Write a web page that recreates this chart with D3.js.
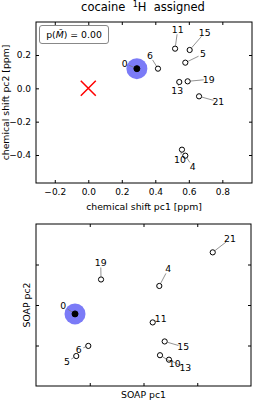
<!DOCTYPE html>
<html>
<head>
<meta charset="utf-8">
<script src="https://cdn.jsdelivr.net/npm/d3@7"></script>
<style>
  body { margin: 0; background: #fff; }
  svg { display: block; font-family: "DejaVu Sans", sans-serif; }
</style>
</head>
<body>
<svg id="chart" width="262" height="401"></svg>
<script>
// ---- data ----
const atoms = ["0", "6", "11", "15", "5", "19", "13", "21", "10", "4"];

// chemical shift PCA (ppm)
const csX = [0.29, 0.416, 0.518, 0.605, 0.579, 0.593, 0.543, 0.661, 0.559, 0.579];
const csY = [0.118, 0.118, 0.238, 0.23, 0.154, 0.042, 0.038, -0.048, -0.368, -0.404];
const csLabelX = [0.217, 0.368, 0.534, 0.695, 0.685, 0.719, 0.531, 0.776, 0.547, 0.623];
const csLabelY = [0.150, 0.196, 0.354, 0.334, 0.206, 0.054, -0.014, -0.080, -0.426, -0.470];
const csTicksX = [-0.2, 0.0, 0.2, 0.4, 0.6, 0.8];
const csTicksY = [-0.4, -0.2, 0.0, 0.2];
const predicted = [0, 0];

// SOAP PCA (arbitrary units)
const soapX = [0.726, 0.973, 2.171, 2.394, 0.749, 1.21, 2.474, 3.288, 2.307, 2.294];
const soapY = [1.78, 0.99, 1.57, 1.10, 0.74, 2.63, 0.65, 3.30, 0.76, 2.47];
const soapLabelX = [0.508, 0.794, 2.32, 2.74, 0.577, 1.204, 2.778, 3.609, 2.581, 2.461];
const soapLabelY = [1.97, 0.90, 1.67, 0.965, 0.60, 3.05, 0.45, 3.63, 0.54, 2.89];
const soapTicks = [1, 2, 3];

const highlighted = "0";

const svg = d3.select("#chart");

// title
const title = svg.append("text")
  .attr("x", 143).attr("y", 11)
  .attr("text-anchor", "middle")
  .style("white-space", "pre")
  .style("font-size", "11.5px");
title.append("tspan").text("cocaine  ");
title.append("tspan").attr("dy", -4).style("font-size", "8px").text("1");
title.append("tspan").attr("dy", 4).text("H  assigned");

function panel(opts) {
  const g = svg.append("g");
  const x = d3.scaleLinear().domain(opts.xDomain).range([opts.left, opts.right]);
  const y = d3.scaleLinear().domain(opts.yDomain).range([opts.bottom, opts.top]);
  const tl = 3;

  // ticks, pointing inward on all four sides
  const axB = d3.axisBottom(x).tickValues(opts.xTicks).tickSizeInner(-tl).tickSizeOuter(0)
    .tickPadding(6).tickFormat(opts.showLabels ? d3.format(".1f") : "");
  const axT = d3.axisTop(x).tickValues(opts.xTicks).tickSizeInner(-tl).tickSizeOuter(0).tickFormat("");
  const axL = d3.axisLeft(y).tickValues(opts.yTicks).tickSizeInner(-tl).tickSizeOuter(0)
    .tickPadding(5).tickFormat(opts.showLabels ? d3.format(".1f") : "");
  const axR = d3.axisRight(y).tickValues(opts.yTicks).tickSizeInner(-tl).tickSizeOuter(0).tickFormat("");

  [[axB, `translate(0,${opts.bottom})`], [axT, `translate(0,${opts.top})`],
   [axL, `translate(${opts.left},0)`], [axR, `translate(${opts.right},0)`]].forEach(([ax, tr]) => {
    const a = g.append("g").attr("transform", tr).call(ax);
    a.select(".domain").remove();
    a.selectAll("line").attr("stroke", "#000").attr("stroke-width", 1);
    a.selectAll("text").attr("fill", "#000").style("font-size", "9px")
      .style("font-family", "DejaVu Sans, sans-serif");
  });

  g.append("rect")
    .attr("x", opts.left).attr("y", opts.top)
    .attr("width", opts.right - opts.left).attr("height", opts.bottom - opts.top)
    .attr("fill", "none").attr("stroke", "#000").attr("stroke-width", 1);

  // axis labels
  g.append("text")
    .attr("x", (opts.left + opts.right) / 2).attr("y", opts.xLabelY)
    .attr("text-anchor", "middle").style("font-size", "9.3px").text(opts.xLabel);
  g.append("text")
    .attr("transform", `translate(${opts.yLabelX},${(opts.top + opts.bottom) / 2}) rotate(-90)`)
    .attr("text-anchor", "middle").style("font-size", "9.3px").text(opts.yLabel);

  const pts = atoms.map((a, i) => ({
    name: a, x: opts.xs[i], y: opts.ys[i], lx: opts.lxs[i], ly: opts.lys[i]
  }));

  // highlight disk under the reference atom
  const hl = pts.find(d => d.name === highlighted);
  g.append("circle")
    .attr("cx", x(hl.x)).attr("cy", y(hl.y)).attr("r", 10.5)
    .attr("fill", "#7b7bf7");

  // connector lines
  pts.forEach(d => {
    const x0 = x(d.x), y0 = y(d.y), x1 = x(d.lx), y1 = y(d.ly);
    const dx = x1 - x0, dy = y1 - y0, len = Math.hypot(dx, dy);
    const ux = dx / len, uy = dy / len;
    const s = 3, e = Math.max(len - 5, s);
    g.append("line")
      .attr("x1", x0 + ux * s).attr("y1", y0 + uy * s)
      .attr("x2", x0 + ux * e).attr("y2", y0 + uy * e)
      .attr("stroke", "#777").attr("stroke-width", 0.8);
  });

  // markers
  g.selectAll("circle.pt").data(pts).enter().append("circle")
    .attr("class", "pt")
    .attr("cx", d => x(d.x)).attr("cy", d => y(d.y))
    .attr("r", d => d.name === highlighted ? 3 : 2.6)
    .attr("fill", d => d.name === highlighted ? "#000" : "none")
    .attr("stroke", "#000").attr("stroke-width", 1);

  // labels
  g.selectAll("text.lab").data(pts).enter().append("text")
    .attr("class", "lab")
    .attr("x", d => x(d.lx)).attr("y", d => y(d.ly))
    .attr("dy", "0.35em")
    .attr("text-anchor", "middle")
    .style("font-size", "9.3px")
    .text(d => d.name);

  return { g, x, y };
}

const csPanel = panel({
  left: 36, right: 252, top: 22, bottom: 183,
  xDomain: [-0.312, 0.977], yDomain: [-0.568, 0.398],
  xTicks: csTicksX, yTicks: csTicksY, showLabels: true,
  xLabel: "chemical shift pc1 [ppm]", yLabel: "chemical shift pc2 [ppm]",
  xLabelY: 210, yLabelX: 9,
  xs: csX, ys: csY, lxs: csLabelX, lys: csLabelY
});

// predicted shift marker
const px = csPanel.x(predicted[0]), py = csPanel.y(predicted[1]);
csPanel.g.append("path")
  .attr("d", `M${px - 7.5},${py - 7.5}L${px + 7.5},${py + 7.5}M${px - 7.5},${py + 7.5}L${px + 7.5},${py - 7.5}`)
  .attr("stroke", "#ff0000").attr("stroke-width", 1.5).attr("fill", "none");

// legend box
const lg = csPanel.g.append("g");
lg.append("rect")
  .attr("x", 39.5).attr("y", 25.5).attr("width", 69).attr("height", 18)
  .attr("rx", 2.5).attr("fill", "#fff").attr("stroke", "#888").attr("stroke-width", 1);
const lt = lg.append("text")
  .attr("x", 74).attr("y", 34.8).attr("dy", "0.35em")
  .attr("text-anchor", "middle").style("font-size", "9.3px");
lt.append("tspan").text("p(");
lt.append("tspan").style("font-style", "italic").text("M\u0303");
lt.append("tspan").text(") = 0.00");

panel({
  left: 36, right: 251, top: 224, bottom: 386,
  xDomain: [0, 4], yDomain: [0, 4],
  xTicks: soapTicks, yTicks: soapTicks, showLabels: false,
  xLabel: "SOAP pc1", yLabel: "SOAP pc2",
  xLabelY: 398, yLabelX: 30,
  xs: soapX, ys: soapY, lxs: soapLabelX, lys: soapLabelY
});
</script>
</body>
</html>
